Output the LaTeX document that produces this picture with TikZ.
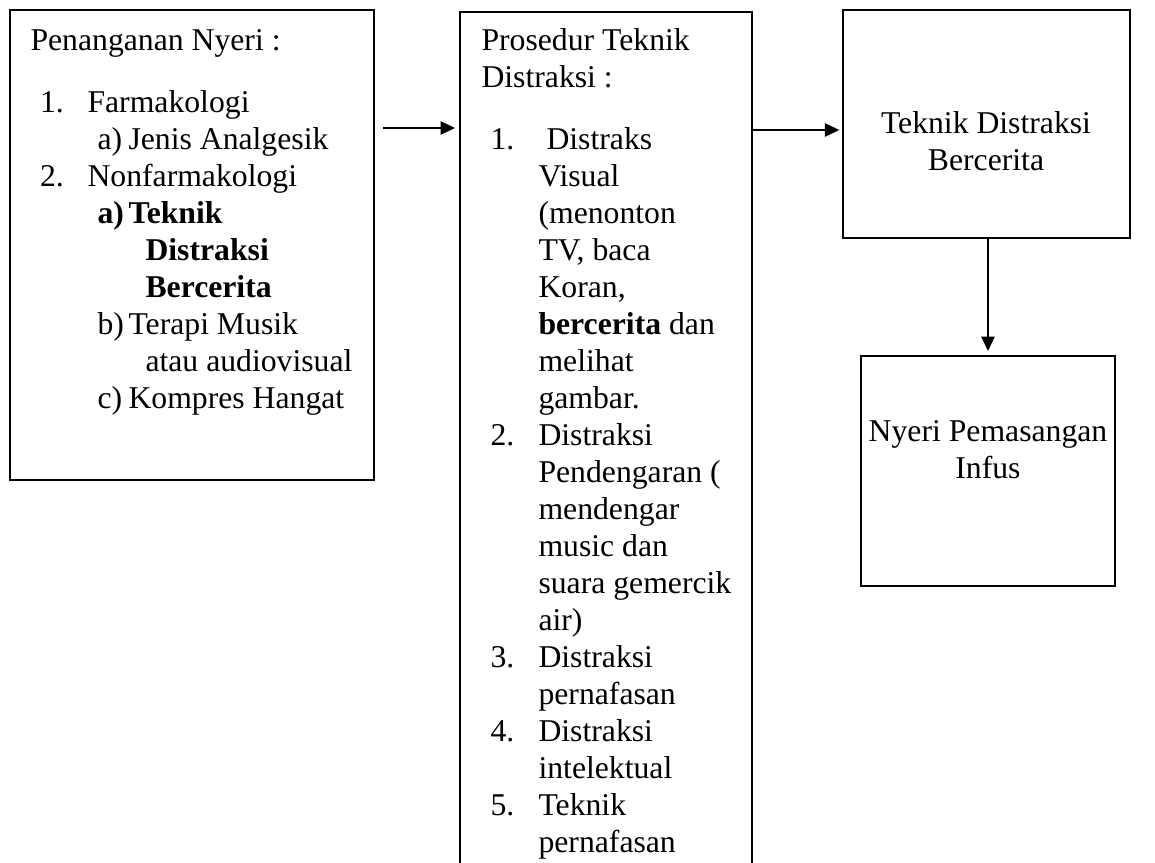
\documentclass[tikz,border=0pt]{standalone}
\usepackage{fontspec}
\setmainfont{Liberation Serif}
\usetikzlibrary{arrows.meta,fit}
\begin{document}
\begin{tikzpicture}[x=0.3785pt,y=-0.3785pt,
  box/.style={draw, line width=0.75pt, inner sep=0pt},
  arr/.style={-{Triangle[length=5.5pt,width=5pt]}, line width=0.75pt},
  txt/.style={anchor=base west, inner sep=0pt, font=\fontsize{12}{14}\selectfont},
  ctr/.style={anchor=base, inner sep=0pt, font=\fontsize{12}{14}\selectfont}]
\useasboundingbox (0,0) rectangle (1155,863);
\clip (0,0) rectangle (1155,863);
% boxes
\node[box, fit={(10,10)(374,480)}] (L) {};
\node[box, fit={(460,12)(752,920)}] (M) {};
\node[box, fit={(843,10)(1130,238)}] (TR) {};
\node[box, fit={(861,356)(1115,586)}] (BR) {};
% left box text
\node[txt] (l0) at (30,51) {Penanganan Nyeri :};
\node[txt] (l1n) at (39.5,112) {1.};
\node[txt] (l1) at (87,112) {Farmakologi};
\node[txt] (l2n) at (97,149) {a)};
\node[txt] (l2) at (128,149) {Jenis Analgesik};
\node[txt] (l3n) at (39.5,186) {2.};
\node[txt] (l3) at (87,186) {Nonfarmakologi};
\node[txt] (l4n) at (97,223) {\textbf{a)}};
\node[txt] (l4) at (128,223) {\textbf{Teknik}};
\node[txt] (l5) at (145,260) {\textbf{Distraksi}};
\node[txt] (l6) at (145,297) {\textbf{Bercerita}};
\node[txt] (l7n) at (97,334) {b)};
\node[txt] (l7) at (128,334) {Terapi Musik};
\node[txt] (l8) at (145,371) {atau audiovisual};
\node[txt] (l9n) at (97,408) {c)};
\node[txt] (l9) at (128,408) {Kompres Hangat};
% middle box text
\node[txt] (m0) at (481,51) {Prosedur Teknik};
\node[txt] (m00) at (481,88) {Distraksi :};
\node[txt] (n1) at (490,149) {1.};
\node[txt] (n2) at (490,445) {2.};
\node[txt] (n3) at (490,667) {3.};
\node[txt] (n4) at (490,741) {4.};
\node[txt] (n5) at (490,815) {5.};
\node[txt] (m1) at (546,149) {Distraks};
\node[txt] (m2) at (538,186) {Visual};
\node[txt] (m3) at (538,223) {(menonton};
\node[txt] (m4) at (538,260) {TV, baca};
\node[txt] (m5) at (538,297) {Koran,};
\node[txt] (m6) at (538,334) {\textbf{bercerita} dan};
\node[txt] (m7) at (538,371) {melihat};
\node[txt] (m8) at (538,408) {gambar.};
\node[txt] (m9) at (538,445) {Distraksi};
\node[txt] (m10) at (538,482) {Pendengaran (};
\node[txt] (m11) at (538,519) {mendengar};
\node[txt] (m12) at (538,556) {music dan};
\node[txt] (m13) at (538,593) {suara gemercik};
\node[txt] (m14) at (538,630) {air)};
\node[txt] (m15) at (538,667) {Distraksi};
\node[txt] (m16) at (538,704) {pernafasan};
\node[txt] (m17) at (538,741) {Distraksi};
\node[txt] (m18) at (538,778) {intelektual};
\node[txt] (m19) at (538,815) {Teknik};
\node[txt] (m20) at (538,852) {pernafasan};
% right boxes text
\node[ctr] (r1) at (986,133) {Teknik Distraksi};
\node[ctr] (r2) at (986,170) {Bercerita};
\node[ctr] (b1) at (988,441) {Nyeri Pemasangan};
\node[ctr] (b2) at (988,478) {Infus};
% connectors
\coordinate (ya) at (0,128);
\coordinate (yb) at (0,130);
\draw[arr, shorten <=3pt, shorten >=1.5pt] (L.east |- ya) -- (M.west |- ya);
\draw[arr, shorten >=1pt] (M.east |- yb) -- (TR.west |- yb);
\draw[arr, shorten >=1.5pt] (BR.north |- TR.south) -- (BR.north);
\end{tikzpicture}
\end{document}
